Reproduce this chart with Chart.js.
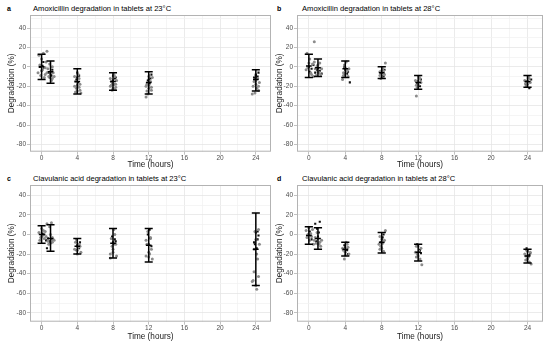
<!DOCTYPE html>
<html>
<head>
<meta charset="utf-8">
<script src="https://cdn.jsdelivr.net/npm/chart.js@4"></script>
<style>
  html, body { margin: 0; padding: 0; background: #fff; }
  body { width: 550px; height: 343px; position: relative; overflow: hidden; font-family: "Liberation Sans", Arial, sans-serif; }
  .panel { position: absolute; }
  .tag { position: absolute; font-size: 7px; font-weight: bold; color: #000; }
  .ttl { position: absolute; font-size: 7.6px; color: #000; white-space: nowrap; }
</style>
</head>
<body>
<div class="tag" style="left:7px;top:5px">a</div>
<div class="ttl" style="left:33px;top:4px">Amoxicillin degradation in tablets at 23°C</div>
<div class="tag" style="left:277px;top:5px">b</div>
<div class="ttl" style="left:302px;top:4px">Amoxicillin degradation in tablets at 28°C</div>
<div class="tag" style="left:7px;top:175px">c</div>
<div class="ttl" style="left:33px;top:174px">Clavulanic acid degradation in tablets at 23°C</div>
<div class="tag" style="left:277px;top:175px">d</div>
<div class="ttl" style="left:302px;top:174px">Clavulanic acid degradation in tablets at 28°C</div>

<div class="panel" style="left:0;top:0;width:275px;height:171px"><canvas id="panelA"></canvas></div>
<div class="panel" style="left:275px;top:0;width:275px;height:171px"><canvas id="panelB"></canvas></div>
<div class="panel" style="left:0;top:171px;width:275px;height:172px"><canvas id="panelC"></canvas></div>
<div class="panel" style="left:275px;top:171px;width:275px;height:172px"><canvas id="panelD"></canvas></div>

<script>
// sampling times of the error bars (hours)
const errTimes = [0, 1, 4, 8, 12, 24];

// --- a: Amoxicillin, 23°C ---
const aGrey = [[-0.3,12],[0.2,14],[0.5,5],[-0.2,2],[0.1,-3],[0.4,-8],[0.8,-10],[1.2,-12],[1.0,-5],[0.7,-2],[1.3,-6],[0.9,3],[1.1,-14],[0.6,16],[0.3,-11],[-0.4,-6],
  [0.0,8],[0.4,-1],[1.4,-10],[0.6,-6],[1.2,0],[-0.1,-9],
  [3.7,-20],[4.0,-25],[4.3,-18],[3.9,-22],[4.2,-12],[4.4,-27],[3.8,-15],[4.1,-8],[4.3,-24],[3.7,-10],[4.0,-19],[4.2,-21],[3.8,-26],
  [7.7,-20],[8.0,-22],[8.3,-18],[7.8,-15],[8.2,-10],[8.4,-14],[7.9,-24],[8.1,-8],[7.7,-12],[8.3,-21],[8.0,-17],[8.2,-23],[7.8,-19],
  [11.7,-20],[12.0,-22],[12.3,-24],[11.8,-18],[12.2,-15],[11.9,-28],[12.4,-11],[11.7,-31],[12.1,-9],[12.0,-19],[12.3,-21],[11.8,-25],
  [23.7,-20],[24.0,-18],[24.3,-24],[23.8,-15],[24.2,-12],[24.4,-16],[23.9,-27],[24.1,-22],[23.6,-28],[24.0,-14],[24.3,-20]];
const aBlack = [[-0.2,0],[0.1,1],[0,-4],[0.3,-1],[1.0,-8],[1.2,-3],[0.9,-11],[0.2,5],[0.8,-6],[1.1,-9],
  [4.0,-6],[4.2,-9],[3.9,-13],[4.1,-16],[4.0,-11],
  [8.0,-9],[8.2,-12],[7.9,-16],[8.1,-18],[8.3,-11],[8.0,-14],
  [12.0,-10],[12.2,-12],[11.9,-14],[12.3,-8],[12.1,-17],[12.0,-13],
  [24.0,-8],[24.2,-10],[23.9,-13],[24.3,-6],[24.1,-11],[23.8,-11],[24.0,-9]];
const aLow  = [-13, -17, -28, -24, -28, -25];
const aMean = [0, -5, -15, -15, -16, -13];
const aHigh = [13, 6, -2, -6, -5, -3];

// --- b: Amoxicillin, 28°C ---
const bGrey = [[-0.2,14],[0.1,8],[0.4,3],[0.7,-2],[1.0,-5],[1.3,-8],[0.2,-6],[0.5,-10],[0.9,1],[1.2,4],[-0.3,-3],[0.6,26],[0.8,-9],[1.1,-6],
  [0.0,4],[0.3,-8],[0.6,5],[1.4,-2],[-0.1,-1],[1.0,2],
  [3.7,-13],[4.0,-8],[4.2,-4],[3.9,2],[4.4,-2],[3.8,-6],[4.1,5],[4.3,-10],[4.0,-1],[3.8,-9],
  [7.8,-9],[8.0,-6],[8.2,-4],[8.4,4],[7.9,-12],[8.1,-2],[8.3,-8],[8.0,-10],[7.8,-5],
  [11.7,-14],[12.0,-18],[12.2,-12],[11.9,-21],[12.3,-16],[11.8,-30],[12.1,-10],[12.0,-15],[11.8,-19],
  [23.7,-14],[24.0,-18],[24.2,-12],[23.9,-20],[24.3,-16],[24.1,-10],[24.0,-15],[23.8,-17]];
const bBlack = [[0,0],[0.3,-2],[0.1,-5],[1.0,-1],[1.2,-4],[1.4,-7],[0.9,-3],[0.5,2],[0.7,-6],
  [4.0,-3],[4.2,-7],[3.9,0],[4.5,-16],[4.3,-5],
  [8.0,-4],[8.2,-10],[7.9,-7],[8.3,-3],
  [12.0,-15],[12.2,-20],[11.9,-17],[12.3,-13],
  [24.0,-15],[24.2,-22],[23.8,-18],[24.4,-13]];
const bLow  = [-11, -10, -11, -12, -23, -21];
const bMean = [1, -1, -2, -6, -16, -15];
const bHigh = [13, 8, 6, 0, -9, -9];

// --- c: Clavulanic acid, 23°C ---
const cGrey = [[-0.3,2],[0.0,6],[0.3,-4],[0.6,11],[0.9,8],[1.2,-8],[0.5,-2],[1.0,0],[1.3,-5],[-0.2,-6],[0.8,-10],[0.2,4],[1.1,12],
  [0.1,-1],[0.4,3],[0.7,-7],[1.2,-3],[1.4,-6],[-0.1,-3],
  [3.7,-15],[4.0,-20],[4.2,-10],[3.9,-5],[4.4,-18],[4.1,-13],[3.8,-8],[4.0,-16],[4.3,-12],
  [7.7,-20],[8.0,-15],[8.3,-10],[7.8,-4],[8.2,0],[8.4,-22],[7.9,-12],[8.1,5],[7.7,-24],[8.0,-18],
  [11.7,-22],[12.0,-18],[12.3,-15],[11.8,-10],[12.2,-3],[12.4,-25],[11.9,3],[12.1,-20],[11.7,-6],[12.0,-23],
  [23.7,-47],[24.0,-52],[24.3,-43],[23.8,-38],[24.2,-25],[24.4,-10],[23.9,3],[24.1,-56],[23.6,-48],[24.0,-5],[23.8,-15],[24.3,5],[24.1,-20]];
const cBlack = [[0.0,-2],[0.3,0],[0.1,1],[0.7,-4],[0.9,-7],[1.2,-5],[0.6,-14],[1.0,-9],[0.5,-6],
  [4.0,-11],[4.2,-14],[3.9,-16],[4.3,-8],
  [8.0,-8],[8.2,-5],[7.9,-2],[8.1,-10],[8.3,-7],
  [12.0,-10],[12.2,-4],[11.9,0],[12.3,-12],[12.1,5],
  [24.0,2],[24.2,-5],[23.9,-10],[24.1,-14],[24.3,-1],[23.8,-8],[24.2,3]];
const cLow  = [-9, -17, -20, -24, -28, -52];
const cMean = [0, -4, -12, -9, -11, -15];
const cHigh = [9, 10, -4, 6, 6, 22];

// --- d: Clavulanic acid, 28°C ---
const dGrey = [[-0.3,4],[0.0,7],[0.3,-2],[0.6,-6],[0.9,2],[1.2,-8],[0.5,-10],[1.0,-4],[1.3,-12],[-0.2,-3],[0.8,-9],[0.2,1],[1.4,-6],
  [0.1,-6],[0.4,5],[0.7,-3],[1.1,-10],[-0.1,0],
  [3.7,-14],[4.0,-18],[4.2,-10],[3.9,-25],[4.4,-20],[4.1,-8],[3.8,-16],[4.0,-21],[4.3,-13],
  [7.7,-10],[8.0,-14],[8.3,-6],[7.8,-2],[8.2,-17],[8.4,4],[7.9,-12],[8.1,-9],[7.8,-15],
  [11.7,-18],[12.0,-22],[12.3,-14],[11.8,-12],[12.2,-25],[12.4,-31],[11.9,-20],[12.1,-17],[11.8,-23],
  [23.7,-20],[24.0,-25],[24.3,-18],[23.8,-22],[24.2,-28],[24.4,-30],[23.9,-16],[24.1,-23],[23.8,-26]];
const dBlack = [[0.0,0],[0.3,-5],[0.1,3],[0.7,11],[0.9,6],[1.2,13],[1.0,-2],[1.1,2],[0.8,-7],
  [4.0,-13],[4.2,-16],[3.9,-11],[4.3,-20],
  [8.0,-5],[8.2,0],[7.9,-8],[8.1,-3],
  [12.0,-12],[12.2,-16],[11.9,-10],[12.3,-19],
  [24.0,-17],[24.2,-21],[23.9,-14],[24.3,-19]];
const dLow  = [-10, -15, -22, -19, -27, -29];
const dMean = [-1, -4, -15, -8, -18, -22];
const dHigh = [8, 7, -8, 2, -10, -15];

Chart.defaults.font.family = '"Liberation Sans", Arial, sans-serif';
Chart.defaults.animation = false;

// grey box around the plot area, like ggplot's theme_light
const panelBorder = {
  id: "panelBorder",
  afterDraw(chart) {
    const { ctx, chartArea: a } = chart;
    ctx.save();
    ctx.strokeStyle = "#b3b3b3";
    ctx.lineWidth = 1;
    ctx.strokeRect(a.left + 0.5, a.top + 0.5, a.right - a.left - 1, a.bottom - a.top - 1);
    ctx.restore();
  },
};

// mean +/- sd bars, positioned through the chart's scales
const errorBars = {
  id: "errorBars",
  afterDatasetsDraw(chart, args, opts) {
    const { ctx, scales } = chart;
    const xs = scales.x, ys = scales.y;
    const half = (xs.getPixelForValue(0.45) - xs.getPixelForValue(0));
    ctx.save();
    ctx.strokeStyle = "#000";
    ctx.lineWidth = 1.5;
    opts.x.forEach((t, i) => {
      const px = xs.getPixelForValue(t);
      const lo = ys.getPixelForValue(opts.low[i]);
      const hi = ys.getPixelForValue(opts.high[i]);
      const mid = ys.getPixelForValue(opts.mean[i]);
      ctx.beginPath();
      ctx.moveTo(px, lo); ctx.lineTo(px, hi);
      ctx.moveTo(px - half, lo); ctx.lineTo(px + half, lo);
      ctx.moveTo(px - half, hi); ctx.lineTo(px + half, hi);
      ctx.moveTo(px - half * 0.7, mid); ctx.lineTo(px + half * 0.7, mid);
      ctx.stroke();
    });
    ctx.restore();
  },
};

function toPts(list) {
  return list.map(p => ({ x: p[0], y: p[1] }));
}

function makePanel(id, grey, black, low, mean, high, opt) {
  new Chart(document.getElementById(id), {
    type: "scatter",
    data: {
      datasets: [
        { data: toPts(grey), backgroundColor: "#8c8c8c", borderWidth: 0, pointRadius: 1.5 },
        { data: toPts(black), backgroundColor: "#111", borderWidth: 0, pointRadius: 1.5, pointStyle: "rect" },
      ],
    },
    options: {
      responsive: true,
      maintainAspectRatio: false,
      layout: { padding: { top: opt.top, right: opt.right, left: 0, bottom: 0 } },
      plugins: {
        legend: { display: false },
        tooltip: { enabled: false },
        errorBars: { x: errTimes, low: low, mean: mean, high: high },
      },
      scales: {
        x: {
          type: "linear",
          min: -1.3, max: 25.7,
          afterFit: s => { s.height = opt.xh; },
          border: { display: false },
          grid: {
            color: c => (c.tick && c.tick.value % 4 === 0 ? "#e6e6e6" : "#f2f2f2"),
            tickColor: c => (c.tick && c.tick.value % 4 === 0 ? "#b3b3b3" : "rgba(0,0,0,0)"),
            tickLength: 3,
            lineWidth: 0.8,
          },
          ticks: {
            stepSize: 2, includeBounds: false, autoSkip: false, maxRotation: 0,
            padding: 0,
            color: "#4d4d4d", font: { size: 6.5 },
            callback: v => (v % 4 === 0 ? v : ""),
          },
          title: { display: true, text: "Time (hours)", color: "#1a1a1a", font: { size: 8.2 }, padding: { top: 0, bottom: 1 } },
        },
        y: {
          min: opt.ymin, max: opt.ymax,
          afterFit: s => { s.width = opt.yw; },
          border: { display: false },
          grid: {
            color: c => (c.tick && c.tick.value % 20 === 0 ? "#e6e6e6" : "#f2f2f2"),
            tickColor: c => (c.tick && c.tick.value % 20 === 0 ? "#b3b3b3" : "rgba(0,0,0,0)"),
            tickLength: 3,
            lineWidth: 0.8,
          },
          ticks: {
            stepSize: 10, includeBounds: false, autoSkip: false,
            padding: 1,
            color: "#4d4d4d", font: { size: 6.5 },
            callback: v => (v % 20 === 0 ? v : ""),
          },
          title: { display: true, text: "Degradation (%)", color: "#1a1a1a", font: { size: 8.2 }, padding: { top: opt.ytp, bottom: 0 } },
        },
      },
    },
    plugins: [panelBorder, errorBars],
  });
}

makePanel("panelA", aGrey, aBlack, aLow, aMean, aHigh, { top: 15, right: 2, yw: 30, xh: 19.3, ytp: 7, ymin: -87.5, ymax: 53.5 });
makePanel("panelB", bGrey, bBlack, bLow, bMean, bHigh, { top: 15, right: 7, yw: 22, xh: 19.3, ytp: 0, ymin: -87.5, ymax: 53.5 });
makePanel("panelC", cGrey, cBlack, cLow, cMean, cHigh, { top: 14, right: 1, yw: 30, xh: 21.3, ytp: 7, ymin: -89, ymax: 50.5 });
makePanel("panelD", dGrey, dBlack, dLow, dMean, dHigh, { top: 14, right: 7, yw: 22, xh: 21.3, ytp: 0, ymin: -89, ymax: 50.5 });
</script>
</body>
</html>
